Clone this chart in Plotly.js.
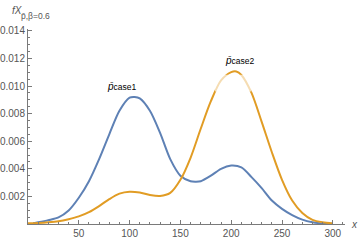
<!DOCTYPE html>
<html>
<head>
<meta charset="utf-8">
<script src="https://cdn.plot.ly/plotly-3.0.1.min.js"></script>
<style>html,body{margin:0;padding:0;background:#fff}#chart{width:360px;height:242px}</style>
</head>
<body>
<div id="chart"></div>
<script>
// data
const xCase1 = [5,10,20,30,40,50,60,70,80,90,100,105,110,120,130,140,150,160,165,170,180,190,200,210,220,230,240,250,260,270,280,290,300];
const yCase1 = [0.00005,0.00012,0.00028,0.00048,0.00098,0.0019,0.0031,0.0047,0.0065,0.0082,0.00915,0.0092,0.0091,0.0082,0.0066,0.0047,0.0035,0.0031,0.00307,0.0031,0.0035,0.0040,0.00423,0.0041,0.0034,0.0026,0.0017,0.0011,0.00065,0.00032,0.00013,0.00004,0.00001];
const xCase2 = [0,10,20,30,40,50,60,70,80,90,100,110,120,130,140,150,160,170,180,190,200,205,210,220,230,240,250,260,270,280,290,300];
const yCase2 = [0.00005,0.00007,0.00012,0.0002,0.00035,0.00055,0.00086,0.0013,0.0018,0.0022,0.00234,0.00228,0.0021,0.00203,0.00225,0.0032,0.0048,0.0069,0.0089,0.0104,0.0110,0.01105,0.0108,0.0095,0.0074,0.0052,0.0032,0.0017,0.0008,0.0003,0.00012,0.00004];
const xTicks = [50,100,150,200,250,300];
const yTicks = [0.002,0.004,0.006,0.008,0.010,0.012,0.014];
const yTickText = ["0.002","0.004","0.006","0.008","0.010","0.012","0.014"];

const traces = [
  {x: xCase1, y: yCase1, mode: 'lines', line: {color: '#5E81B5', width: 2, shape: 'spline', smoothing: 0.8}, hoverinfo: 'none'},
  {x: xCase2, y: yCase2, mode: 'lines', line: {color: '#E19C24', width: 2, shape: 'spline', smoothing: 0.8}, hoverinfo: 'none'}
];

const axisColor = '#7a7a7a';
const tickFont = {family: 'Liberation Sans, Arial, sans-serif', size: 10, color: '#555'};

const layout = {
  width: 360, height: 242,
  margin: {l: 28, r: 15, t: 29, b: 18},
  paper_bgcolor: '#fff', plot_bgcolor: '#fff',
  showlegend: false,
  xaxis: {
    range: [0, 312], showgrid: false, zeroline: false,
    showline: true, linecolor: axisColor, linewidth: 1,
    ticks: 'inside', ticklen: 4, tickcolor: axisColor, tickwidth: 1,
    tickvals: xTicks, ticktext: xTicks.map(String), tickfont: tickFont,
    minor: {dtick: 10, tick0: 0, ticks: 'inside', ticklen: 2, tickcolor: axisColor, showgrid: false}
  },
  yaxis: {
    range: [0, 0.01413], showgrid: false, zeroline: false,
    showline: true, linecolor: axisColor, linewidth: 1,
    ticks: 'inside', ticklen: 4, tickcolor: axisColor, tickwidth: 1,
    tickvals: yTicks, ticktext: yTickText, tickfont: tickFont,
    minor: {dtick: 0.0005, tick0: 0, ticks: 'inside', ticklen: 2, tickcolor: axisColor, showgrid: false}
  },
  shapes: [
    {type: 'rect', xref: 'x', yref: 'y', x0: 184, x1: 220, y0: 0.0096, y1: 0.01082,
     fillcolor: 'rgba(255,255,255,0.65)', line: {width: 0}, layer: 'above'}
  ],
  annotations: [
    {xref: 'paper', yref: 'paper', x: 0, y: 1, xshift: -18, yshift: 26, xanchor: 'left', yanchor: 'top',
     text: '<i>f</i><i>X</i>', showarrow: false,
     font: {family: 'Liberation Sans, Arial, sans-serif', size: 10, color: '#555'}},
    {xref: 'paper', yref: 'paper', x: 0, y: 1, xshift: -9, yshift: 20, xanchor: 'left', yanchor: 'top',
     text: 'p̄,β=0.6', showarrow: false,
     font: {family: 'Liberation Sans, Arial, sans-serif', size: 8.5, color: '#555'}},
    {xref: 'paper', yref: 'paper', x: 1, y: 0, xshift: 4, yshift: 0, xanchor: 'left', yanchor: 'middle',
     text: '<i>x</i>', showarrow: false,
     font: {family: 'Liberation Sans, Arial, sans-serif', size: 10, color: '#555'}},
    {xref: 'x', yref: 'y', x: 93, y: 0.00998, xanchor: 'center', yanchor: 'middle',
     text: '<i>p̄</i><span style="font-size:8.5px">case1</span>', showarrow: false,
     font: {family: 'Liberation Sans, Arial, sans-serif', size: 10, color: '#000'}},
    {xref: 'x', yref: 'y', x: 209, y: 0.01188, xanchor: 'center', yanchor: 'middle',
     text: '<i>p̄</i><span style="font-size:8.5px">case2</span>', showarrow: false,
     font: {family: 'Liberation Sans, Arial, sans-serif', size: 10, color: '#000'}}
  ]
};

Plotly.newPlot('chart', traces, layout, {staticPlot: true, displayModeBar: false});
</script>
</body>
</html>
